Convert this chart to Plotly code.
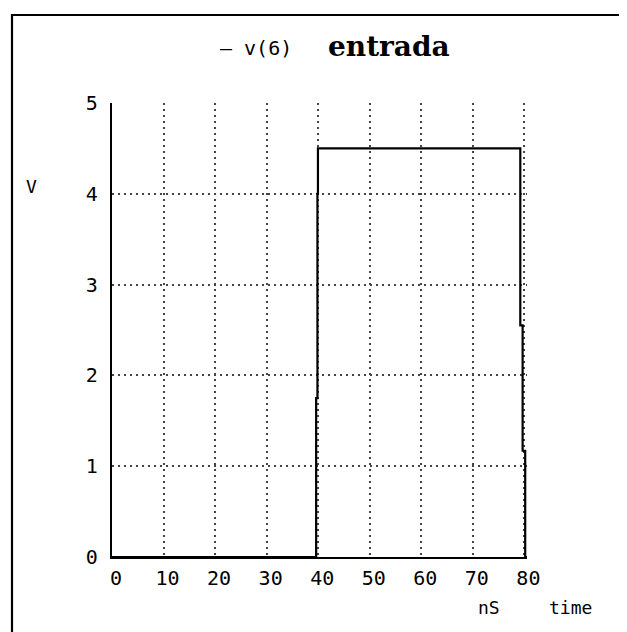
import plotly.graph_objects as go

# Transient simulation data: v(6) "entrada"
time_ns = [0, 39.6, 39.6, 39.85, 39.85, 39.95, 39.95, 79.2, 79.2, 79.65, 79.65, 80.15, 80.15, 80.5]
v6 = [0, 0, 1.75, 1.75, 4.0, 4.0, 4.5, 4.5, 2.55, 2.55, 1.17, 1.17, 0, 0]

x_ticks = [0, 10, 20, 30, 40, 50, 60, 70, 80]
y_ticks = [0, 1, 2, 3, 4, 5]

OFF = 8  # page body margin
W, H = 627 - OFF, 632 - OFF
# plot area bounds in page pixels
L, R, T, B = 112, 527, 103, 557

def px(xp):
    return (xp - L) / (R - L)

def py(yp):
    return (B - yp) / (B - T)

mono = "DejaVu Sans Mono"

fig = go.Figure()
fig.add_trace(go.Scatter(x=time_ns, y=v6, mode="lines", name="v(6)",
                         line=dict(color="black", width=2.2), showlegend=False))

def ann(text, xp, yp, size, family=mono):
    return dict(text=text, x=px(xp), y=py(yp), xref="paper", yref="paper",
                xanchor="center", yanchor="middle", showarrow=False,
                font=dict(family=family, size=size, color="black"))

fig.update_layout(
    width=W, height=H,
    margin=dict(l=L - OFF, r=W - (R - OFF), t=T - OFF, b=H - (B - OFF), pad=0),
    paper_bgcolor="white", plot_bgcolor="white",
    font=dict(family=mono, size=20, color="black"),
    xaxis=dict(range=[0, 80.5], tickvals=x_ticks, ticktext=[str(v) for v in x_ticks],
               showgrid=True, gridcolor="#444", gridwidth=1.7, griddash="2px,4px",
               showline=True, linecolor="black", linewidth=2.2, zeroline=False,
               ticks="", ticklabelstandoff=2, ticklabelshift=4,
               tickfont=dict(family=mono, size=20)),
    yaxis=dict(range=[0, 5], tickvals=y_ticks, ticktext=[str(v) for v in y_ticks],
               showgrid=True, gridcolor="#444", gridwidth=1.7, griddash="2px,4px",
               showline=True, linecolor="black", linewidth=2.2, zeroline=False,
               ticks="", ticklabelstandoff=8,
               tickfont=dict(family=mono, size=20)),
    shapes=[dict(type="rect", xref="paper", yref="paper",
                 x0=px(12), x1=px(660), y0=py(680), y1=py(15),
                 line=dict(color="black", width=2.2), fillcolor="rgba(0,0,0,0)")],
    annotations=[
        ann("— v(6)", 256, 48, 20),
        ann("<b>entrada</b>", 389, 47, 28, "DejaVu Serif"),
        ann("V", 31, 186, 18),
        ann("nS", 489, 607, 18),
        ann("time", 570, 607, 18),
    ],
)

fig.write_html("out.html")
